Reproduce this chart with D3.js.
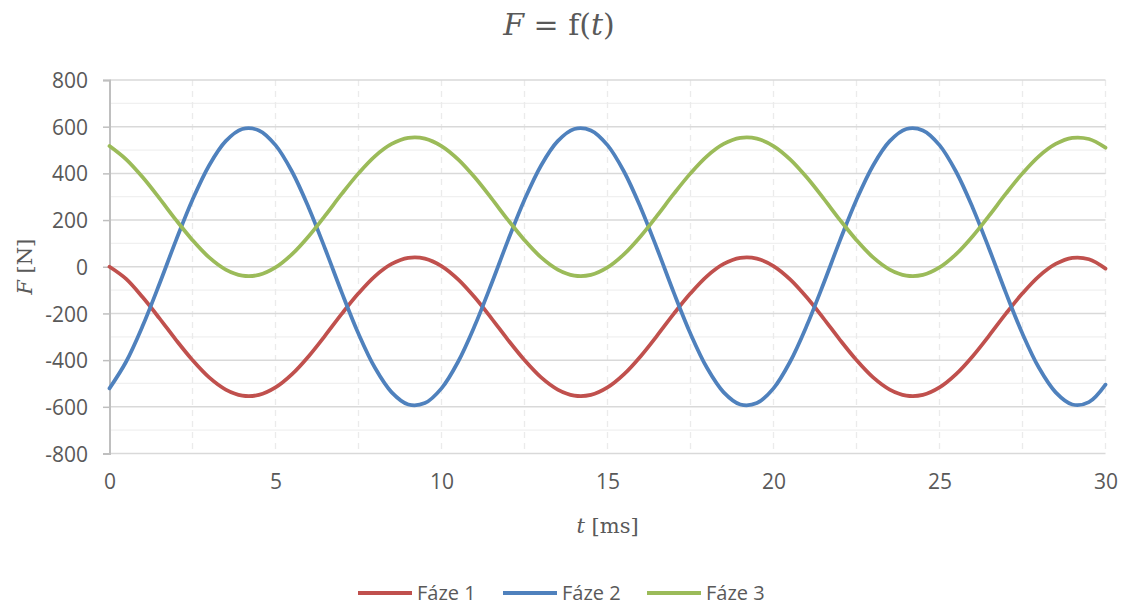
<!DOCTYPE html>
<html>
<head>
<meta charset="utf-8">
<script src="https://cdn.jsdelivr.net/npm/d3@7"></script>
<style>
  body { margin: 0; background: #fff; }
  svg { display: block; }
  .tick text { font-family: "Open Sans", sans-serif; font-size: 21px; fill: #595959; }
</style>
</head>
<body>
<svg id="chart" width="1125" height="605"></svg>
<script>
'use strict';

// time [ms]
const time = [
  0, 0.5, 1, 1.5, 2, 2.5, 3, 3.5, 4, 4.5, 5, 5.5, 6, 6.5, 7, 7.5, 8, 8.5, 9, 9.5,
  10, 10.5, 11, 11.5, 12, 12.5, 13, 13.5, 14, 14.5, 15, 15.5, 16, 16.5, 17, 17.5, 18, 18.5, 19, 19.5,
  20, 20.5, 21, 21.5, 22, 22.5, 23, 23.5, 24, 24.5, 25, 25.5, 26, 26.5, 27, 27.5, 28, 28.5, 29, 29.5,
  30
];

// F [N]
const faze1 = [
  0, -52, -131, -220, -313, -400, -474, -526, -552, -549, -517, -460, -383, -294, -201, -114, -40, 12, 38, 35,
  3, -54, -131, -220, -313, -400, -474, -526, -552, -549, -517, -460, -383, -294, -201, -114, -40, 12, 38, 35,
  3, -54, -131, -220, -313, -400, -474, -526, -552, -549, -517, -460, -383, -294, -201, -114, -40, 12, 38, 32,
  -8
];
const faze2 = [
  -521, -407, -253, -75, 112, 287, 434, 538, 590, 584, 521, 407, 253, 75, -112, -287, -434, -538, -590, -584,
  -521, -407, -253, -75, 112, 287, 434, 538, 590, 584, 521, 407, 253, 75, -112, -287, -434, -538, -590, -584,
  -521, -407, -253, -75, 112, 287, 434, 538, 590, 584, 521, 407, 253, 75, -112, -287, -434, -538, -590, -580,
  -505
];
const faze3 = [
  517, 460, 383, 294, 201, 114, 40, -12, -38, -35, -3, 54, 131, 220, 313, 400, 474, 526, 552, 549,
  517, 460, 383, 294, 201, 114, 40, -12, -38, -35, -3, 54, 131, 220, 313, 400, 474, 526, 552, 549,
  517, 460, 383, 294, 201, 114, 40, -12, -38, -35, -3, 54, 131, 220, 313, 400, 474, 526, 552, 547,
  510
];

const seriesNames = ['Fáze 1', 'Fáze 2', 'Fáze 3'];
const seriesColors = ['#C0504D', '#4F81BD', '#9BBB59'];
const xTicks = [0, 5, 10, 15, 20, 25, 30];
const xMinor = [2.5, 5, 7.5, 10, 12.5, 15, 17.5, 20, 22.5, 25, 27.5, 30];
const yTicks = [-800, -600, -400, -200, 0, 200, 400, 600, 800];
const yMinor = [-700, -500, -300, -100, 100, 300, 500, 700];

const svg = d3.select('#chart');

const x = d3.scaleLinear().domain([0, 30]).range([109.5, 1105.5]);
const y = d3.scaleLinear().domain([-800, 800]).range([453.5, 80]);

// minor horizontal grid
svg.append('g')
  .selectAll('line')
  .data(yMinor)
  .enter().append('line')
  .attr('x1', x(0)).attr('x2', x(30))
  .attr('y1', d => y(d)).attr('y2', d => y(d))
  .attr('stroke', '#f0f0f0')
  .attr('stroke-width', 1.3);

// vertical dashed grid
svg.append('g')
  .selectAll('line')
  .data(xMinor)
  .enter().append('line')
  .attr('x1', d => x(d)).attr('x2', d => x(d))
  .attr('y1', y(800)).attr('y2', y(-800))
  .attr('stroke', '#ebebeb')
  .attr('stroke-width', 1.3)
  .attr('stroke-dasharray', '6,5');

// major horizontal grid
svg.append('g')
  .selectAll('line')
  .data(yTicks)
  .enter().append('line')
  .attr('x1', x(0)).attr('x2', x(30))
  .attr('y1', d => y(d)).attr('y2', d => y(d))
  .attr('stroke', '#d9d9d9')
  .attr('stroke-width', 1.5);

// y axis (plain hyphen for negatives, like the original)
const yAxis = svg.append('g')
  .attr('transform', `translate(${x(0)},0)`)
  .call(d3.axisLeft(y).tickValues(yTicks).tickSize(6.5).tickPadding(15)
    .tickFormat(d => String(d)));
yAxis.select('.domain').attr('stroke', '#bfbfbf').attr('stroke-width', 2);
yAxis.selectAll('.tick line').attr('stroke', '#bfbfbf').attr('stroke-width', 1.5);
yAxis.selectAll('.tick text').attr('dy', '0.36em');

// x axis labels only
const xAxis = svg.append('g')
  .attr('transform', `translate(0,${y(-800)})`)
  .call(d3.axisBottom(x).tickValues(xTicks).tickSize(0).tickPadding(21)
    .tickFormat(d => String(d)));
xAxis.select('.domain').remove();

// series
const line = d3.line()
  .x((d, i) => x(time[i]))
  .y(d => y(d))
  .curve(d3.curveCatmullRom.alpha(0.5));

[faze1, faze2, faze3].forEach((vals, i) => {
  svg.append('path')
    .datum(vals)
    .attr('fill', 'none')
    .attr('stroke', seriesColors[i])
    .attr('stroke-width', 3.75)
    .attr('stroke-linecap', 'round')
    .attr('d', line);
});

// title
const title = svg.append('text')
  .attr('x', 559)
  .attr('y', 35)
  .attr('text-anchor', 'middle')
  .style('font-family', '"DejaVu Serif", serif')
  .style('font-size', '30px')
  .style('fill', '#595959');
title.append('tspan').style('font-style', 'italic').text('F');
title.append('tspan').text(' = f(');
title.append('tspan').style('font-style', 'italic').text('t');
title.append('tspan').text(')');

// axis titles
const yLabel = svg.append('text')
  .attr('transform', `translate(32,${y(0)}) rotate(-90)`)
  .attr('text-anchor', 'middle')
  .style('font-family', '"DejaVu Serif", serif')
  .style('font-size', '21px')
  .style('fill', '#595959');
yLabel.append('tspan').style('font-style', 'italic').text('F');
yLabel.append('tspan').text(' [N]');

const xLabel = svg.append('text')
  .attr('x', (x(0) + x(30)) / 2)
  .attr('y', 533)
  .attr('text-anchor', 'middle')
  .style('font-family', '"DejaVu Serif", serif')
  .style('font-size', '21px')
  .style('fill', '#595959');
xLabel.append('tspan').style('font-style', 'italic').text('t');
xLabel.append('tspan').text(' [ms]');

// legend
const legendX = [358, 503, 647];
const legend = svg.append('g')
  .selectAll('g')
  .data(seriesNames)
  .enter().append('g')
  .attr('transform', (d, i) => `translate(${legendX[i]},593)`);

legend.append('line')
  .attr('x1', 0).attr('x2', 54)
  .attr('stroke', (d, i) => seriesColors[i])
  .attr('stroke-width', 4);

legend.append('text')
  .attr('x', 59)
  .attr('dy', '0.36em')
  .style('font-family', '"Open Sans", sans-serif')
  .style('font-size', '20px')
  .style('fill', '#595959')
  .text(d => d);
</script>
</body>
</html>
